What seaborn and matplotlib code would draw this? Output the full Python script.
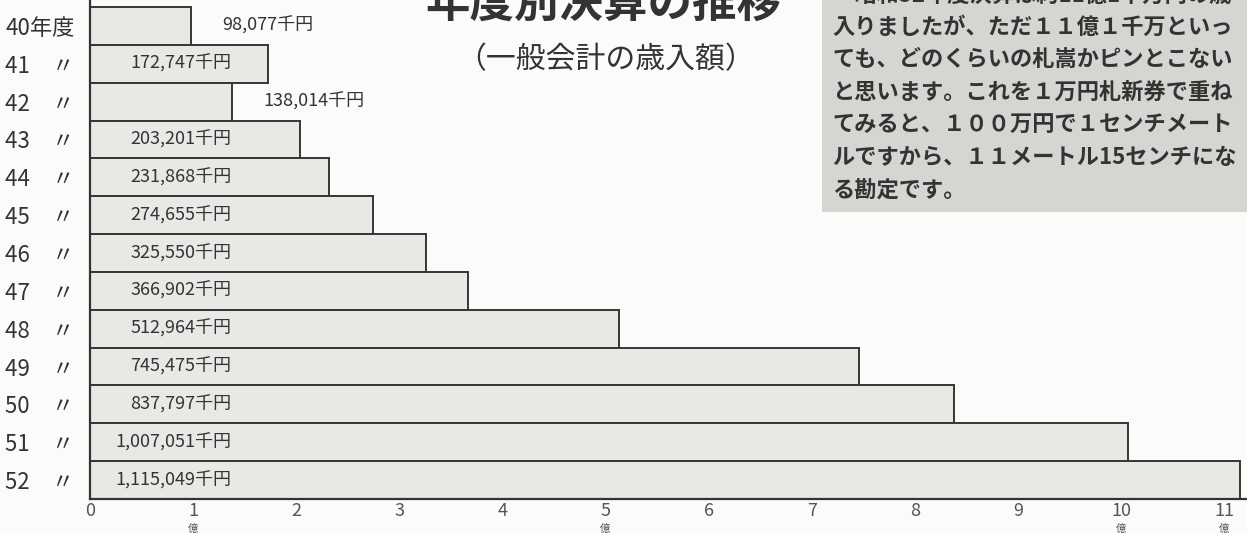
import numpy as np
import pandas as pd
import seaborn as sns
import matplotlib.pyplot as plt
from matplotlib.patches import Rectangle
from matplotlib.ticker import MultipleLocator

# 年度別決算 (一般会計の歳入額), 単位 千円
years = ["40年度", "41　〃", "42　〃", "43　〃", "44　〃", "45　〃", "46　〃",
         "47　〃", "48　〃", "49　〃", "50　〃", "51　〃", "52　〃"]
revenue = [98077, 172747, 138014, 203201, 231868, 274655, 325550,
           366902, 512964, 745475, 837797, 1007051, 1115049]
x_ticks = list(range(12))
oku_ticks = [1, 5, 10, 11]

title = "年度別決算の推移"
subtitle = "（一般会計の歳入額）"
note_lines = [
    "　昭和52年度決算は約11億1千万円の歳",
    "入りましたが、ただ１１億１千万といっ",
    "ても、どのくらいの札嵩かピンとこない",
    "と思います。これを１万円札新券で重ね",
    "てみると、１００万円で１センチメート",
    "ルですから、１１メートル15センチにな",
    "る勘定です。",
]

df = pd.DataFrame({"year": years, "oku": np.array(revenue) / 100000})

sns.set_style("white")
plt.rcParams["font.family"] = ["Noto Sans CJK JP", "DejaVu Sans"]

W, H = 1247, 533
fig = plt.figure(figsize=(W / 100, H / 100), dpi=100, facecolor="#fbfbf9")
ax = fig.add_axes([90 / W, 34 / H, 1157 / W, 499 / H])
ax.set_facecolor("none")

# grey note box top right
fig.add_artist(Rectangle((822 / W, 1 - 212 / H), 1 - 822 / W, 212 / H,
                         transform=fig.transFigure, facecolor="#d5d5d1",
                         edgecolor="none", zorder=0))

sns.barplot(data=df, x="oku", y="year", orient="h", color="#e8e8e4",
            saturation=1, edgecolor="#363636", linewidth=1.4, width=1.0, ax=ax)

ax.set_xlim(0, 1157 / 103.1)
ax.set_ylim(12.5, -0.5 - 7 / 37.85)
ax.set_xlabel("")
ax.set_ylabel("")

# value labels
for i, v in enumerate(revenue):
    oku = v / 100000
    if oku < 1.5:
        ax.text(oku + 0.3, i, f"{v:,}千円", ha="left", va="center",
                fontsize=13, color="#333")
    else:
        ax.text(1.37, i, f"{v:,}千円", ha="right", va="center",
                fontsize=13, color="#333")

ax.set_xticks(x_ticks)
ax.set_xticklabels([str(t) for t in x_ticks])
ax.xaxis.set_minor_locator(MultipleLocator(0.5))
ax.tick_params(axis="x", which="major", direction="inout", length=8, width=1,
               color="#444", labelsize=13, labelcolor="#555", pad=-2)
ax.tick_params(axis="x", which="minor", direction="in", length=4, width=1,
               color="#777", bottom=True)
for t in oku_ticks:
    ax.text(t, -30 / 499, "億", transform=ax.get_xaxis_transform(),
            ha="center", va="center", fontsize=7.5, color="#555")

ax.tick_params(axis="y", length=0, pad=61, labelsize=16, labelcolor="#333")
for lbl in ax.get_yticklabels():
    lbl.set_ha("left")

sns.despine(ax=ax)
for s in ["left", "bottom"]:
    ax.spines[s].set_linewidth(1.6)
    ax.spines[s].set_color("#333")

fig.text(603 / W, 1 - 4 / H, title, ha="center", va="center", fontsize=32,
         fontweight="bold", color="#333")
fig.text(606 / W, 1 - 60 / H, subtitle, ha="center", va="center",
         fontsize=21.5, color="#333")

for k, line in enumerate(note_lines):
    fig.text(832 / W, 1 - (-5 + 32.5 * k) / H, line, ha="left", va="center",
             fontsize=16, fontweight="bold", color="#333")

fig.savefig("out.png", dpi=100, facecolor=fig.get_facecolor())
